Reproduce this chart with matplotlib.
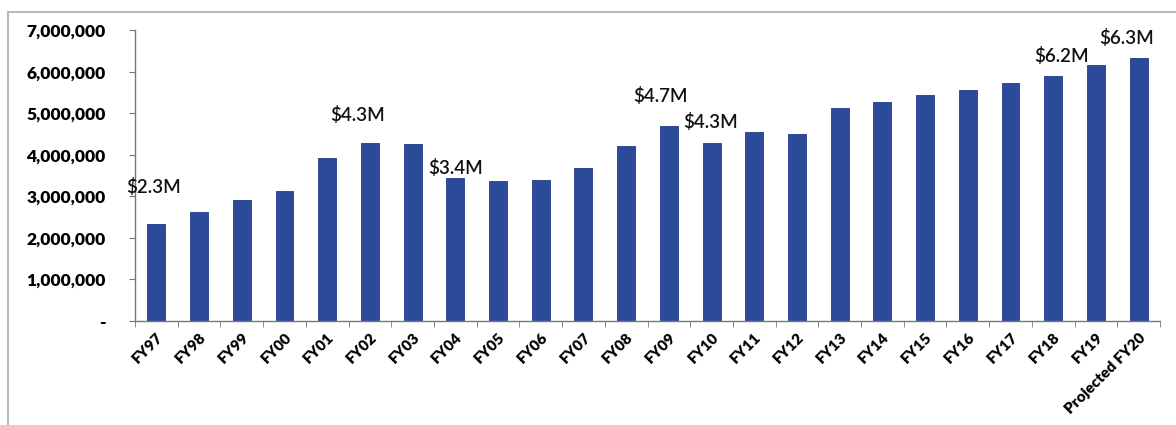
import numpy as np
import matplotlib.pyplot as plt
from matplotlib.patches import Rectangle
from matplotlib.ticker import FuncFormatter

# Annual funding by fiscal year
years = ['FY97', 'FY98', 'FY99', 'FY00', 'FY01', 'FY02', 'FY03', 'FY04',
         'FY05', 'FY06', 'FY07', 'FY08', 'FY09', 'FY10', 'FY11', 'FY12',
         'FY13', 'FY14', 'FY15', 'FY16', 'FY17', 'FY18', 'FY19',
         'Projected FY20']
amounts = [2340000, 2620000, 2910000, 3130000, 3920000, 4280000, 4250000,
           3430000, 3360000, 3390000, 3680000, 4210000, 4690000, 4280000,
           4540000, 4490000, 5120000, 5270000, 5440000, 5550000, 5720000,
           5890000, 6160000, 6320000]

# callouts: bar index and text offset in points
callouts = [(0, -2, 20), (5, -9, 14), (7, 0, 1), (12, -6, 15),
            (13, -1, 9), (22, -25, 0), (23, -9, 8)]

plt.rcParams['font.family'] = ['Lato', 'DejaVu Sans']
plt.rcParams['font.weight'] = 'bold'

fig = plt.figure(figsize=(11.76, 4.25), dpi=100)
ax = fig.add_axes([0.1148, 0.2447, 0.8716, 0.6843])

x = np.arange(len(years))
ax.bar(x, amounts, width=0.42, color='#2B4A9A', edgecolor='#223d85', linewidth=0.6)

for i, dx, dy in callouts:
    ax.annotate('$%.1fM' % (amounts[i] / 1e6), (x[i], amounts[i]),
                xytext=(dx, dy), textcoords='offset points',
                ha='center', va='bottom', fontsize=13.5, fontweight='semibold',
                color='#111111')

ax.set_xlim(-0.5, len(years) - 0.5)
ax.set_ylim(0, 7000000)
ax.set_yticks(np.arange(0, 7000001, 1000000))
ax.yaxis.set_major_formatter(FuncFormatter(lambda v, p: '-' if v == 0 else f'{int(v):,}'))

ax.set_xticks(x)
ax.set_xticklabels(years, rotation=45, ha='right', rotation_mode='anchor',
                   fontsize=11, fontweight='heavy')
ax.set_xticks(np.arange(-0.5, len(years), 1), minor=True)
ax.tick_params(axis='x', which='major', length=0, pad=7)
ax.tick_params(axis='x', which='minor', length=4, direction='out', color='#777777')
ax.tick_params(axis='y', length=4, direction='out', color='#777777',
               labelsize=12.5, pad=17)
for lab in ax.get_yticklabels():
    lab.set_fontweight('heavy')

for side in ['top', 'right']:
    ax.spines[side].set_visible(False)
for side in ['left', 'bottom']:
    ax.spines[side].set_color('#777777')
    ax.spines[side].set_linewidth(1.0)

# outer chart frame
fig.patches.append(Rectangle((8 / 1176, -0.05), 1.1, (425 - 12) / 425 + 0.05,
                             transform=fig.transFigure, fill=False,
                             edgecolor='#aaaaaa', linewidth=1.2))

fig.savefig('out.png', dpi=100)
